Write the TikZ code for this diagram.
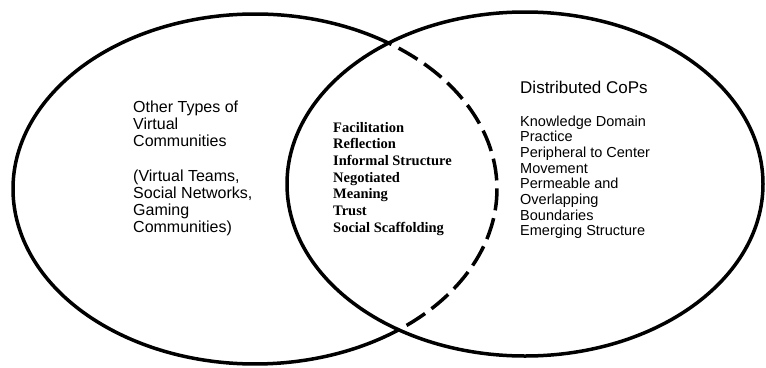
\documentclass[tikz,border=0pt]{standalone}
\usepackage{fontspec}
\setmainfont{Liberation Serif}
\newfontfamily\sansf{Liberation Sans}
\begin{document}
\begin{tikzpicture}[x=1pt,y=-1pt,
  ring/.style={line width=3.5pt},
  dashring/.style={line width=3.5pt, dash pattern=on 22pt off 8pt, dash phase=-12pt},
  lefttxt/.style={anchor=base west, inner sep=0pt, font=\sansf\fontsize{16}{17}\selectfont},
  righttitle/.style={anchor=base west, inner sep=0pt, font=\sansf\fontsize{17}{19}\selectfont},
  righttxt/.style={anchor=base west, inner sep=0pt, font=\sansf\fontsize{14.5}{16}\selectfont},
  midtxt/.style={anchor=base west, inner sep=0pt, font=\bfseries\fontsize{14.5}{16}\selectfont}]
\fill[white] (0,0) rectangle (766,367);
\useasboundingbox (0,0) rectangle (766,367);
% ellipses
\coordinate (lc) at (255,189);
\coordinate (rc) at (525,184);
\draw[ring] (rc) ellipse [x radius=238, y radius=172];
\draw[ring] (lc) ++(-56.7:242 and 175) arc[start angle=-56.7, end angle=-306.6, x radius=242, y radius=175];
\draw[dashring] (lc) ++(-56.7:242 and 175) arc[start angle=-56.7, end angle=53.4, x radius=242, y radius=175];
% left text
\foreach \t/\y [count=\i] in {Other Types of/112, Virtual/129, Communities/146, {(Virtual Teams,}/181, {Social Networks,}/198, Gaming/215, {Communities)}/232}
  \node[lefttxt] (left\i) at (133,\y) {\t};
% middle text
\foreach \t [count=\i] in {Facilitation, Reflection, Informal Structure, Negotiated, Meaning, Trust, Social Scaffolding}
  \node[midtxt] (mid\i) at (333,{132+16.7*(\i-1)}) {\t};
% right text
\node[righttitle] (rtitle) at (520,93) {Distributed CoPs};
\foreach \t [count=\i] in {Knowledge Domain, Practice, Peripheral to Center, Movement, Permeable and, Overlapping, Boundaries, Emerging Structure}
  \node[righttxt] (right\i) at (520,{126+15.7*(\i-1)}) {\t};
\end{tikzpicture}
\end{document}
